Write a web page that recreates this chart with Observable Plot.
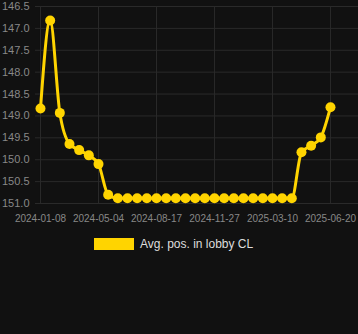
<!DOCTYPE html>
<html>
<head>
<meta charset="utf-8">
<script src="https://cdn.jsdelivr.net/npm/d3@7"></script>
<script src="https://cdn.jsdelivr.net/npm/@observablehq/plot@0.6"></script>
<style>
  html, body { margin: 0; padding: 0; background: #111111; }
  body { width: 358px; height: 334px; overflow: hidden; font-family: "Liberation Sans", Arial, sans-serif; }
  #legend { position: relative; height: 30px; }
  #legend .sw { position: absolute; left: 94px; top: 8px; width: 40px; height: 12px; background: #ffd400; }
  #legend .lb { position: absolute; left: 140px; top: 6px; font-size: 12px; color: #dddddd; line-height: 16px; }
</style>
</head>
<body>
<div id="chart"></div>
<div id="legend"><div class="sw"></div><div class="lb">Avg. pos. in lobby CL</div></div>
<script>
const seriesName = "Avg. pos. in lobby CL";
const positions = [
  148.83, 146.82, 148.93, 149.64, 149.78, 149.90, 150.10, 150.80, 150.88,
  150.88, 150.88, 150.88, 150.88, 150.88, 150.88, 150.88, 150.88, 150.88,
  150.88, 150.88, 150.88, 150.88, 150.88, 150.88, 150.88, 150.88, 150.88,
  149.83, 149.68, 149.49, 148.80
];
const tickIndices = [0, 6, 12, 18, 24, 30];
const tickLabels = ["2024-01-08", "2024-05-04", "2024-08-17", "2024-11-27", "2025-03-10", "2025-06-20"];
const yTicks = [146.5, 147.0, 147.5, 148.0, 148.5, 149.0, 149.5, 150.0, 150.5, 151.0];

const data = positions.map((v, i) => ({i, v}));
const color = "#ffd400";
const gridColor = "#2a2a2a";

const chart = Plot.plot({
  width: 358,
  height: 230,
  marginLeft: 35,
  marginRight: 0,
  marginTop: 6,
  marginBottom: 27,
  style: {background: "#111111", color: "#888888", fontFamily: "'Liberation Sans', Arial, sans-serif"},
  x: {domain: [-0.517, 32.9]},
  y: {domain: [146.5, 151.0], reverse: true},
  marks: [
    Plot.gridY(yTicks, {stroke: gridColor, strokeOpacity: 1}),
    Plot.gridX(tickIndices, {stroke: gridColor, strokeOpacity: 1}),
    Plot.axisY(yTicks, {tickSize: 0, tickPadding: 6, fontSize: 11, fill: "#888888", tickFormat: d => d.toFixed(1), label: null}),
    Plot.axisX(tickIndices, {tickSize: 0, tickPadding: 11, fontSize: 10, fill: "#888888", tickFormat: d => tickLabels[tickIndices.indexOf(d)], label: null}),
    Plot.line(data, {x: "i", y: "v", stroke: color, strokeWidth: 3, curve: "monotone-x"}),
    Plot.dot(data, {x: "i", y: "v", r: 5, fill: color, stroke: null})
  ]
});
document.getElementById("chart").appendChild(chart);
</script>
</body>
</html>
